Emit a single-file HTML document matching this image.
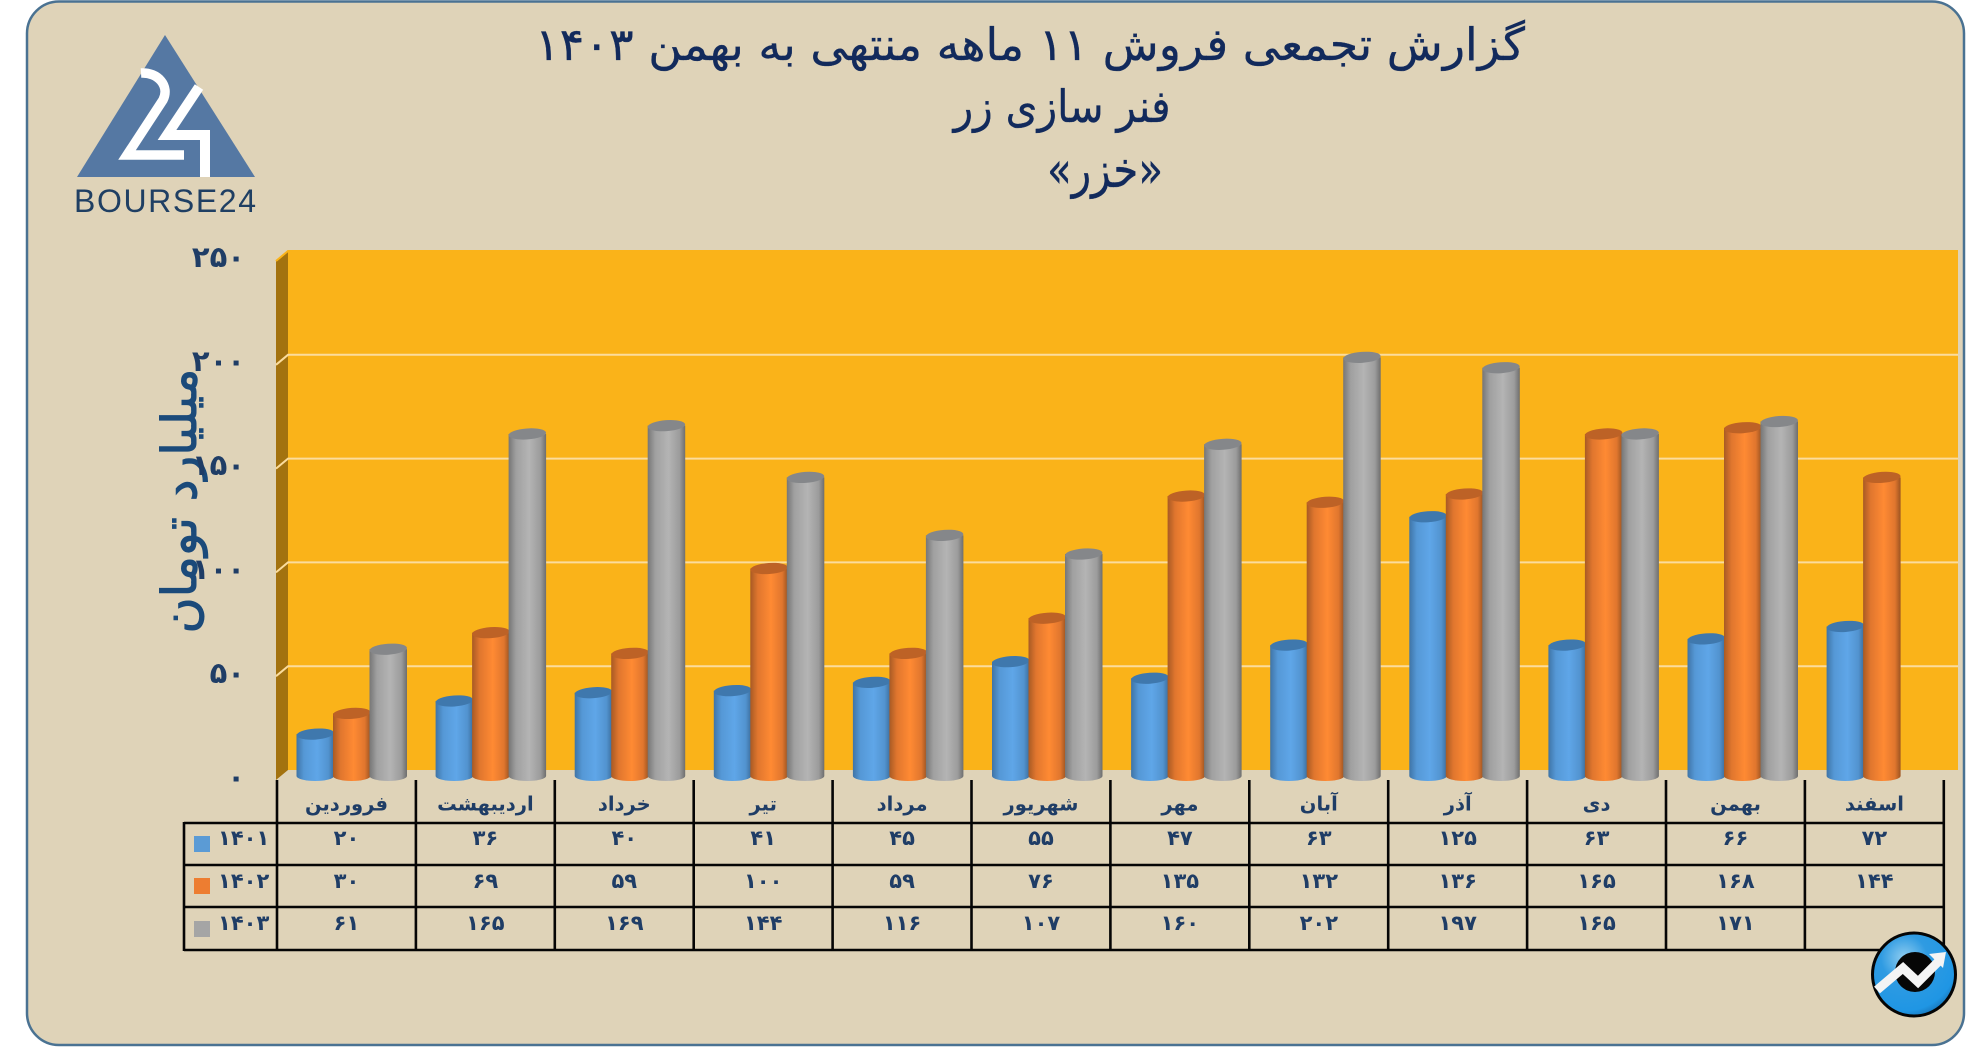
<!DOCTYPE html>
<html lang="fa">
<head>
<meta charset="utf-8">
<title>گزارش تجمعی فروش</title>
<style>
html,body{margin:0;padding:0;background:#fff;width:1986px;height:1047px;overflow:hidden}
svg{display:block}
text{font-family:"DejaVu Sans","Liberation Sans",sans-serif}
.title{fill:#122a5c;stroke:#122a5c;stroke-width:.35}
.num{fill:#1f3d66;font-weight:bold;font-size:21px;text-anchor:middle;dominant-baseline:central}
.cat{fill:#1f3d66;font-weight:bold;font-size:19.5px;text-anchor:middle;dominant-baseline:central;direction:rtl}
.tick{fill:#1f3d66;font-weight:bold;font-size:29px;text-anchor:end;dominant-baseline:central}
</style>
</head>
<body>
<svg id="chart" xmlns="http://www.w3.org/2000/svg" width="1986" height="1047" viewBox="0 0 1986 1047">
<defs>
<linearGradient id="g0" x1="0" x2="1" y1="0" y2="0"><stop offset="0" stop-color="#3f74a6"/><stop offset=".2" stop-color="#5598d6"/><stop offset=".55" stop-color="#5fa6e8"/><stop offset=".85" stop-color="#5293cf"/><stop offset="1" stop-color="#3c6e9d"/></linearGradient>
<linearGradient id="g1" x1="0" x2="1" y1="0" y2="0"><stop offset="0" stop-color="#a85a24"/><stop offset=".2" stop-color="#e0762e"/><stop offset=".55" stop-color="#ff8a33"/><stop offset=".85" stop-color="#e0762e"/><stop offset="1" stop-color="#9c5421"/></linearGradient>
<linearGradient id="g2" x1="0" x2="1" y1="0" y2="0"><stop offset="0" stop-color="#767676"/><stop offset=".2" stop-color="#a0a0a0"/><stop offset=".55" stop-color="#b4b4b4"/><stop offset=".85" stop-color="#9c9c9c"/><stop offset="1" stop-color="#6e6e6e"/></linearGradient>
<radialGradient id="badgeFill" cx=".38" cy=".3" r=".8"><stop offset="0" stop-color="#8fcdf0"/><stop offset=".35" stop-color="#2f9be2"/><stop offset=".8" stop-color="#1f96e4"/><stop offset="1" stop-color="#14619f"/></radialGradient>
</defs>

<rect x="27" y="1.5" width="1937" height="1043.5" rx="32" fill="#dfd3b8" stroke="#4a7292" stroke-width="2.5"/>

<g>
  <polygon points="165,35 77,177 255,177" fill="#5578a3"/>
  <path d="M141,73 C158,72 170,86 163,100 L127,155 L184,155" fill="none" stroke="#fff" stroke-width="9.5"/>
  <path d="M199,87 L167,135 L205,135 L205,177" fill="none" stroke="#fff" stroke-width="10"/>
  <text x="74" y="212" textLength="182" lengthAdjust="spacing" style="font-family:'Liberation Sans',sans-serif;font-size:32px" fill="#1f3f63">BOURSE24</text>
</g>

<g class="title" text-anchor="middle" direction="rtl">
  <text x="1030" y="60" font-size="45" textLength="990" lengthAdjust="spacingAndGlyphs">گزارش تجمعی فروش ۱۱ ماهه منتهی به بهمن ۱۴۰۳</text>
  <text x="1062" y="122" font-size="45" textLength="217" lengthAdjust="spacingAndGlyphs">فنر سازی زر</text>
  <text x="1105" y="187" font-size="50" textLength="116" lengthAdjust="spacingAndGlyphs">«خزر»</text>
</g>

<polygon points="276,261 288,251 288,770 276,780" fill="#a3720f"/>
<rect x="288" y="251" width="1670" height="519" fill="#fab319"/>

<g id="grid"></g>

<text transform="translate(196,501) rotate(-90)" font-size="48" fill="#1b4a7a" stroke="#1b4a7a" stroke-width="1" text-anchor="middle" direction="rtl" textLength="265" lengthAdjust="spacingAndGlyphs">میلیارد تومان</text>

<g id="ticks"></g>
<g id="bars"></g>
<g id="table"></g>

<g>
  <circle cx="1914" cy="974.5" r="41.5" fill="url(#badgeFill)" stroke="#050505" stroke-width="3"/>
  <circle cx="1915" cy="972" r="20" fill="#060606"/>
  <polyline points="1877,990 1903,968 1918,982 1941,959" fill="none" stroke="#f4f4f4" stroke-width="9"/>
  <polygon points="1929,954 1946,952 1943,968" fill="#f4f4f4"/>
</g>

<script>
const categories = ["فروردین","اردیبهشت","خرداد","تیر","مرداد","شهریور","مهر","آبان","آذر","دی","بهمن","اسفند"];
const seriesNames = ["1401","1402","1403"];
const values1401 = [20,36,40,41,45,55,47,63,125,63,66,72];
const values1402 = [30,69,59,100,59,76,135,132,136,165,168,144];
const values1403 = [61,165,169,144,116,107,160,202,197,165,171,null];
const tickValues = [0,50,100,150,200,250];

const SVGNS = "http://www.w3.org/2000/svg";
const allSeries = [values1401, values1402, values1403];
const capColors = ["#3f78ad","#bd6226","#85878a"];
const keyColors = ["#5b9bd5","#ed7d31","#a5a5a5"];

function make(tag, parent, cls) {
  const el = document.createElementNS(SVGNS, tag);
  if (cls) el.setAttribute("class", cls);
  parent.appendChild(el);
  return el;
}
function fa(n) {
  return String(n).replace(/\d/g, d => "۰۱۲۳۴۵۶۷۸۹"[d]);
}
const wallY = v => 770 - v * 2.076;
const tickY = v => 777 - v * 2.08;
const barTop = v => 775.5 - v * 2.07;
const barBase = 776;
const groupX = i => 296.5 + i * 139.1;
const barWidth = 37.5;
const barStep = 36.5;
const colX = i => 277 + i * 138.9;

const grid = document.getElementById("grid");
tickValues.forEach(v => {
  if (v === 0) return;
  const y = wallY(v);
  const line = make("polyline", grid);
  
  
  line.setAttribute("points", "276," + (y + 10) + " 288," + y + " 1958," + y);
  line.setAttribute("fill", "none");
  line.setAttribute("stroke", v === 250 ? "#fab319" : "#fbdc9d");
  line.setAttribute("stroke-width", "2");
});

const ticks = document.getElementById("ticks");
tickValues.forEach(v => {
  const t = make("text", ticks, "tick");
  
  
  t.setAttribute("x", "245");
  t.setAttribute("y", tickY(v));
  t.textContent = fa(v);
});

const bars = document.getElementById("bars");
categories.forEach((c, i) => {
  allSeries.forEach((vals, s) => {
    const v = vals[i];
    if (v === null) return;
    const x = groupX(i) + s * barStep;
    const top = barTop(v);
    const g = make("g", bars);
    
    
    const body = make("path", g);
    
    
    body.setAttribute("d", "M" + x + "," + top + " L" + x + "," + barBase + " A" + barWidth / 2 + ",5 0 0 0 " + (x + barWidth) + "," + barBase + " L" + (x + barWidth) + "," + top + " Z");
    body.setAttribute("fill", "url(#g" + s + ")");
    const cap = make("ellipse", g);
    
    
    cap.setAttribute("cx", x + barWidth / 2);
    cap.setAttribute("cy", top);
    cap.setAttribute("rx", barWidth / 2);
    cap.setAttribute("ry", "5.5");
    cap.setAttribute("transform", "rotate(-4 " + (x + barWidth / 2) + " " + top + ")");
    cap.setAttribute("fill", capColors[s]);
  });
});

const table = document.getElementById("table");
const rowLines = [823, 865, 907, 950];
const rowTextY = [838, 881, 923];
const keyY = [836, 878, 921];

rowLines.forEach(y => {
  const l = make("line", table);
  
  
  l.setAttribute("x1", "184");
  l.setAttribute("x2", colX(categories.length));
  l.setAttribute("y1", y);
  l.setAttribute("y2", y);
  l.setAttribute("stroke", "#050505");
  l.setAttribute("stroke-width", "2.6");
});
const leftLine = make("line", table);


leftLine.setAttribute("x1", "184");
leftLine.setAttribute("x2", "184");
leftLine.setAttribute("y1", "822");
leftLine.setAttribute("y2", "951");
leftLine.setAttribute("stroke", "#050505");
leftLine.setAttribute("stroke-width", "2.6");
for (let i = 0; i <= categories.length; i++) {
  const l = make("line", table);
  
  
  l.setAttribute("x1", colX(i));
  l.setAttribute("x2", colX(i));
  l.setAttribute("y1", "780");
  l.setAttribute("y2", "951");
  l.setAttribute("stroke", "#050505");
  l.setAttribute("stroke-width", "2.6");
}
categories.forEach((c, i) => {
  const t = make("text", table, "cat");
  
  
  t.setAttribute("x", colX(i) + 69.5);
  t.setAttribute("y", "804");
  t.textContent = c;
  allSeries.forEach((vals, s) => {
    if (vals[i] === null) return;
    const n = make("text", table, "num");
    
    
    n.setAttribute("x", colX(i) + 69.5);
    n.setAttribute("y", rowTextY[s]);
    n.textContent = fa(vals[i]);
  });
});
seriesNames.forEach((name, s) => {
  const k = make("rect", table);
  
  
  k.setAttribute("x", "194");
  k.setAttribute("y", keyY[s]);
  k.setAttribute("width", "16");
  k.setAttribute("height", "16");
  k.setAttribute("fill", keyColors[s]);
  const t = make("text", table, "num");
  
  
  t.setAttribute("x", "218");
  t.setAttribute("y", rowTextY[s]);
  t.setAttribute("style", "text-anchor:start");
  t.textContent = fa(name);
});
</script>
</svg>
</body>
</html>
